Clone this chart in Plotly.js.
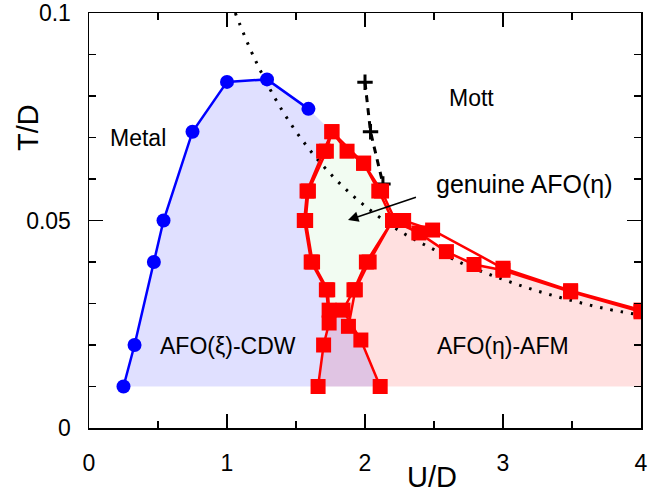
<!DOCTYPE html>
<html>
<head>
<meta charset="utf-8">
<script src="https://cdn.plot.ly/plotly-3.0.1.min.js"></script>
<style>html,body{margin:0;padding:0;background:#fff;}#chart{width:649px;height:496px;}</style>
</head>
<body>
<div id="chart"></div>
<script>
// Metal / AFO(xi)-CDW boundary (blue circles)
var blueU = [0.25, 0.33, 0.47, 0.54, 0.75, 1.00, 1.29, 1.59];
var blueT = [0.010, 0.020, 0.040, 0.050, 0.0714, 0.0834, 0.0840, 0.0769];

// AFO(eta) loop (red squares), left leg -> top -> right leg
var loopU = [1.66, 1.70, 1.74, 1.72, 1.61, 1.56, 1.58, 1.70, 1.76, 1.87, 1.99, 2.10, 2.20, 2.01, 1.92, 1.84, 1.97, 2.11];
var loopT = [0.010, 0.020, 0.0253, 0.0333, 0.040, 0.050, 0.0571, 0.0667, 0.0714, 0.0667, 0.0638, 0.0571, 0.050, 0.040, 0.0333, 0.0284, 0.0212, 0.010];

// second red line (outer loop + upper tail)
var upperU = [1.74, 1.73, 1.62, 1.57, 1.59, 1.72, 1.76, 1.99, 2.12, 2.22, 2.28, 2.49, 3.00, 3.49, 4.00];
var upperT = [0.0284, 0.0333, 0.040, 0.050, 0.0571, 0.0667, 0.0714, 0.0638, 0.0571, 0.050, 0.050, 0.0477, 0.0385, 0.0331, 0.0284];

// third red line (inner right side + lower tail)
var lowerU = [1.88, 1.93, 2.03, 2.20, 2.39, 2.59, 2.79, 3.00, 3.49, 4.00];
var lowerT = [0.0245, 0.0333, 0.040, 0.050, 0.0470, 0.0425, 0.0394, 0.0380, 0.0328, 0.0280];

// dotted crossover line
var dotU = [1.06, 1.20, 1.40, 1.60, 1.80, 2.00, 2.25, 2.50, 2.75, 3.00, 3.25, 3.50, 3.75, 4.00];
var dotT = [0.100, 0.089, 0.0765, 0.067, 0.0595, 0.0535, 0.0475, 0.0430, 0.0390, 0.0358, 0.0330, 0.0307, 0.0287, 0.0272];

// dashed Mott line with + markers
var mottU = [2.00, 2.04, 2.13];
var mottT = [0.0833, 0.0714, 0.0588];

var Tbase = 0.010;
var Umax = 4.0;

// shaded regions built from the data above
var blueFillU = blueU.concat(loopU.slice(8)).concat([blueU[0]]);
var blueFillT = blueT.concat(loopT.slice(8)).concat([Tbase]);

var pinkFillU = [loopU[0], loopU[1], loopU[2], loopU[15], loopU[14], loopU[13], loopU[12]].concat(lowerU.slice(4)).concat([Umax]);
var pinkFillT = [loopT[0], loopT[1], loopT[2], loopT[15], loopT[14], loopT[13], loopT[12]].concat(lowerT.slice(4)).concat([Tbase]);

var greenFillU = loopU.slice(2, 16);
var greenFillT = loopT.slice(2, 16);

var redMarker = {symbol: 'square', size: 15, color: '#ff0000'};
var traces = [
  {x: pinkFillU, y: pinkFillT, fill: 'toself', fillcolor: 'rgba(255,0,0,0.12)', line: {width: 0}, mode: 'lines', hoverinfo: 'skip'},
  {x: blueFillU, y: blueFillT, fill: 'toself', fillcolor: 'rgba(0,0,255,0.12)', line: {width: 0}, mode: 'lines', hoverinfo: 'skip'},
  {x: greenFillU, y: greenFillT, fill: 'toself', fillcolor: 'rgb(242,252,242)', line: {width: 0}, mode: 'lines', hoverinfo: 'skip'},
  {x: dotU, y: dotT, mode: 'lines', line: {color: 'black', width: 3, dash: '2.5px,8px', shape: 'spline'}},
  {x: mottU, y: mottT, mode: 'lines+markers', line: {color: 'black', width: 3, dash: '7px,6px'},
   marker: {symbol: 'cross-thin', size: 11, line: {color: 'black', width: 3}}},
  {x: blueU, y: blueT, mode: 'lines+markers', line: {color: '#0000ff', width: 2.5},
   marker: {symbol: 'circle', size: 14, color: '#0000ff'}},
  {x: loopU, y: loopT, mode: 'lines+markers', line: {color: '#ff0000', width: 2.5}, marker: redMarker},
  {x: upperU, y: upperT, mode: 'lines+markers', line: {color: '#ff0000', width: 2.5}, marker: redMarker},
  {x: lowerU, y: lowerT, mode: 'lines+markers', line: {color: '#ff0000', width: 2.5}, marker: redMarker}
];

var fam = 'Liberation Sans, Arial, sans-serif';
var labelFont = {family: fam, size: 23, color: 'black'};

var layout = {
  width: 649, height: 496,
  margin: {l: 89, r: 8, t: 13, b: 68},
  paper_bgcolor: 'white', plot_bgcolor: 'white',
  showlegend: false,
  font: labelFont,
  xaxis: {
    range: [0, 4], dtick: 1, tick0: 0,
    showgrid: false, zeroline: false,
    showline: true, linecolor: 'black', linewidth: 1.5, mirror: 'ticks',
    ticks: 'inside', ticklen: 14, tickwidth: 1.2, tickcolor: 'black',
    minor: {dtick: 0.5, ticks: 'inside', ticklen: 7, tickwidth: 1.2, tickcolor: 'black', showgrid: false},
    tickfont: labelFont, ticklabelstandoff: 14
  },
  yaxis: {
    range: [0, 0.1], dtick: 0.05, tick0: 0,
    showgrid: false, zeroline: false,
    showline: true, linecolor: 'black', linewidth: 1.5, mirror: 'ticks',
    ticks: 'inside', ticklen: 14, tickwidth: 1.2, tickcolor: 'black',
    minor: {dtick: 0.01, ticks: 'inside', ticklen: 7, tickwidth: 1.2, tickcolor: 'black', showgrid: false},
    tickfont: labelFont, ticklabelstandoff: 12
  },
  annotations: [
    {xref: 'paper', yref: 'paper', x: 0.621, y: -0.118, xanchor: 'center', yanchor: 'middle', text: 'U/D', showarrow: false, font: {family: fam, size: 29, color: 'black'}},
    {xref: 'paper', yref: 'paper', x: -0.1105, y: 0.723, xanchor: 'center', yanchor: 'middle', text: 'T/D', textangle: -90, showarrow: false, font: {family: fam, size: 29, color: 'black'}},
    {x: 0.355, y: 0.0698, text: 'Metal', showarrow: false, font: labelFont},
    {x: 2.775, y: 0.0795, text: 'Mott', showarrow: false, font: labelFont},
    {x: 1.007, y: 0.0198, text: 'AFO(ξ)-CDW', showarrow: false, font: labelFont},
    {x: 3.0, y: 0.0198, text: 'AFO(η)-AFM', showarrow: false, font: labelFont},
    {x: 3.156, y: 0.0588, text: 'genuine AFO(η)', showarrow: false, font: {family: fam, size: 25, color: 'black'}},
    {x: 1.877, y: 0.0501, ax: 2.38, ay: 0.0557, axref: 'x', ayref: 'y', text: '', showarrow: true,
     arrowhead: 2, arrowsize: 1.3, arrowwidth: 1.6, arrowcolor: 'black'}
  ]
};

Plotly.newPlot('chart', traces, layout, {staticPlot: true});
</script>
</body>
</html>
